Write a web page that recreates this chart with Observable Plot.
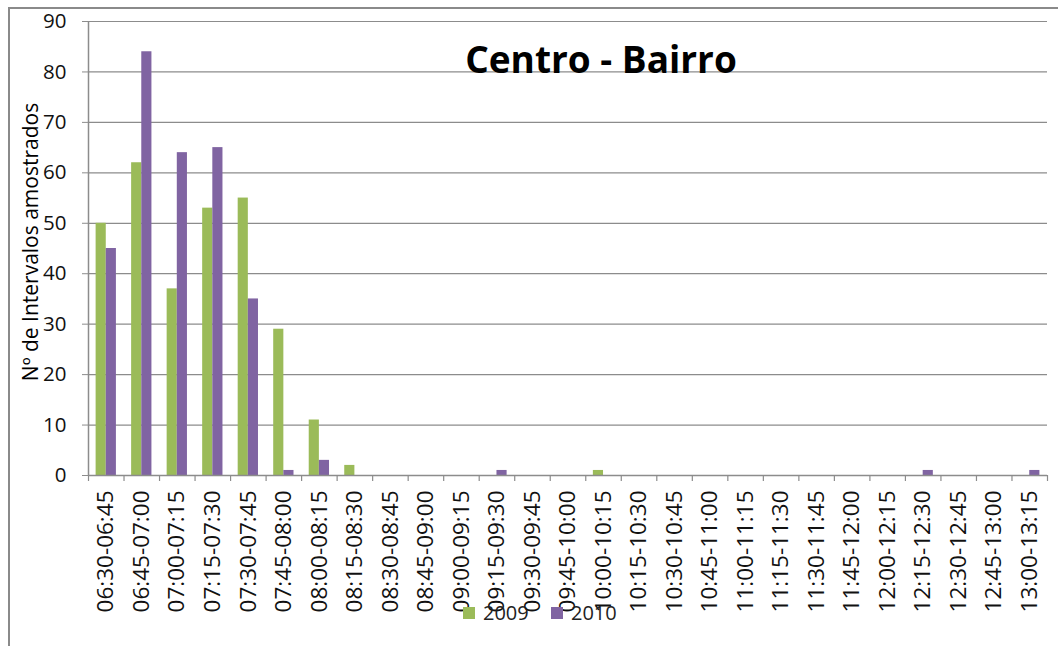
<!DOCTYPE html>
<html>
<head>
<meta charset="utf-8">
<script src="https://cdn.jsdelivr.net/npm/d3@7"></script>
<script src="https://cdn.jsdelivr.net/npm/@observablehq/plot@0.6"></script>
<style>
  html, body { margin: 0; padding: 0; background: #fff; }
  #wrap { position: relative; width: 1058px; height: 646px; overflow: hidden; font-family: "Open Sans", "Liberation Sans", sans-serif; }
  #wrap svg { position: absolute; left: 0; top: 0; }
  #border { position: absolute; left: 8px; top: 7px; width: 1060px; height: 660px; border-left: 2px solid #8a8a8a; border-top: 2px solid #8a8a8a; box-sizing: border-box; }
  #title { position: absolute; left: 601px; top: 35px; transform: translateX(-50%); font-size: 37px; font-weight: bold; color: #000; white-space: nowrap; line-height: 48px; }
  #ylabel { position: absolute; left: 30px; top: 242px; transform: translate(-50%, -50%) rotate(-90deg); font-size: 21px; color: #000; white-space: nowrap; }
  .leg { position: absolute; top: 600px; font-size: 20px; color: #222; display: flex; align-items: center; line-height: 26px; }
  .sw { width: 12px; height: 12px; margin-right: 8px; }
</style>
</head>
<body>
<div id="wrap">
  <div id="border"></div>
</div>
<script>
const categories = ["06:30-06:45","06:45-07:00","07:00-07:15","07:15-07:30","07:30-07:45","07:45-08:00","08:00-08:15","08:15-08:30","08:30-08:45","08:45-09:00","09:00-09:15","09:15-09:30","09:30-09:45","09:45-10:00","10:00-10:15","10:15-10:30","10:30-10:45","10:45-11:00","11:00-11:15","11:15-11:30","11:30-11:45","11:45-12:00","12:00-12:15","12:15-12:30","12:30-12:45","12:45-13:00","13:00-13:15"];
const values2009 = [50,62,37,53,55,29,11,2,0,0,0,0,0,0,1,0,0,0,0,0,0,0,0,0,0,0,0];
const values2010 = [45,84,64,65,35,1,3,0,0,0,0,1,0,0,0,0,0,0,0,0,0,0,0,1,0,0,1];
const yTicks = [0,10,20,30,40,50,60,70,80,90];
const seriesNames = ["2009","2010"];
const colors = ["#9BBB59","#8064A2"];

const W = 1058, H = 646, mL = 88, mR = 11, mT = 21, mB = 171;
const bw = (W - mL - mR) / categories.length;
const barW = bw / 3.5;
const outer = bw * 0.75 / 3.5;

const d09 = categories.map((c, i) => ({cat: c, v: values2009[i]}));
const d10 = categories.map((c, i) => ({cat: c, v: values2010[i]}));

const chart = Plot.plot({
  width: W, height: H,
  marginLeft: mL, marginRight: mR, marginTop: mT, marginBottom: mB,
  style: {fontFamily: "'Open Sans', 'Liberation Sans', sans-serif", color: "#000", background: "transparent"},
  x: {type: "band", domain: categories, padding: 0, round: false},
  y: {domain: [0, 90]},
  marks: [
    Plot.ruleY(yTicks.filter(t => t > 0), {stroke: "#8c8c8c", strokeWidth: 1.2}),
    Plot.barY(d09, {x: "cat", y: "v", fill: colors[0], insetLeft: outer, insetRight: bw - outer - barW}),
    Plot.barY(d10, {x: "cat", y: "v", fill: colors[1], insetLeft: outer + barW, insetRight: outer}),
    Plot.ruleY([0], {stroke: "#8c8c8c", strokeWidth: 1.5}),
    Plot.ruleX([categories[0]], {dx: -bw / 2, y1: 0, y2: 90, stroke: "#8c8c8c", strokeWidth: 1.5}),
    Plot.ruleX(categories, {dx: -bw / 2, y1: 0, y2: 0, insetBottom: -6, stroke: "#8c8c8c", strokeWidth: 1.2}),
    Plot.ruleX([categories[categories.length - 1]], {dx: bw / 2, y1: 0, y2: 0, insetBottom: -6, stroke: "#8c8c8c", strokeWidth: 1.2}),
    Plot.axisY({ticks: yTicks, tickSize: 6, tickPadding: 16, fontSize: 20.5, label: null, stroke: "#8c8c8c", fill: "#111"}),
    Plot.axisX({tickSize: 0, tickRotate: -90, tickPadding: 15, fontSize: 22.5, label: null, fill: "#111"})
  ]
});
const wrap = document.getElementById("wrap");
wrap.appendChild(chart);

const title = document.createElement("div");
title.id = "title"; title.textContent = "Centro - Bairro";
wrap.appendChild(title);

const yl = document.createElement("div");
yl.id = "ylabel"; yl.textContent = "Nº de Intervalos amostrados";
wrap.appendChild(yl);

const legX = [463, 551];
seriesNames.forEach((s, i) => {
  const d = document.createElement("div");
  d.className = "leg";
  d.style.left = legX[i] + "px";
  d.innerHTML = `<span class="sw" style="background:${colors[i]}"></span><span>${s}</span>`;
  wrap.appendChild(d);
});
</script>
</body>
</html>
